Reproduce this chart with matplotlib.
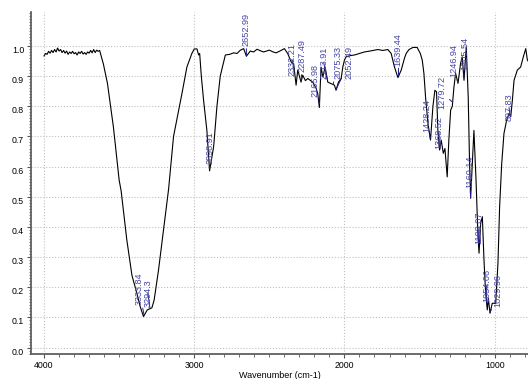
import numpy as np
import matplotlib
matplotlib.use("Agg")
import matplotlib.pyplot as plt
from matplotlib.ticker import MultipleLocator

plt.rcParams['font.family'] = ['Liberation Sans', 'DejaVu Sans']

# spectrum: wavenumber (cm-1) and transmittance
wavenumber = [4000, 3990, 3980, 3970, 3960, 3950, 3940, 3930, 3920, 3910, 3900, 3890, 3880, 3870,
              3860, 3850, 3840, 3830, 3820, 3810, 3800, 3790, 3780, 3770, 3760, 3750, 3740, 3730,
              3720, 3710, 3700, 3690, 3680, 3670, 3660, 3650, 3640, 3630,
              3605, 3578, 3538, 3500, 3487, 3449, 3415, 3382, 3360, 3338, 3313, 3282, 3267, 3238,
              3205, 3171, 3138, 3082, 3049, 3016, 3000, 2982, 2971, 2964, 2953, 2938, 2916, 2898,
              2871, 2849, 2827, 2793, 2765, 2738, 2715, 2693, 2671, 2653, 2627, 2605, 2582, 2560,
              2538, 2500, 2475, 2455, 2430, 2400, 2378, 2355, 2338, 2322, 2311, 2289, 2278, 2260,
              2244, 2211, 2189, 2178, 2167, 2156, 2144, 2129, 2111, 2089, 2067, 2056, 2040, 2022,
              2011, 2000, 1989, 1960, 1933, 1900, 1867, 1820, 1778, 1745, 1711, 1689, 1667, 1644,
              1622, 1600, 1589, 1570, 1544, 1516, 1495, 1482, 1471, 1460, 1444, 1427, 1411, 1398,
              1387, 1378, 1367, 1356, 1342, 1331, 1316, 1305, 1293, 1282, 1271, 1260, 1244, 1227,
              1216, 1204, 1189, 1176, 1167, 1160, 1149, 1138, 1124, 1111, 1104, 1093, 1082, 1071,
              1060, 1049, 1042, 1031, 1016, 993, 978, 967, 953, 938, 920, 904, 893, 882, 871, 849,
              827, 809, 793, 782, 773]
transmittance = [0.967, 0.975, 0.972, 0.982, 0.976, 0.985, 0.978, 0.988, 0.980, 0.993, 0.983, 0.988,
                 0.978, 0.985, 0.976, 0.983, 0.972, 0.980, 0.975, 0.982, 0.974, 0.978, 0.970, 0.980,
                 0.975, 0.982, 0.973, 0.978, 0.972, 0.980, 0.976, 0.985, 0.977, 0.988, 0.978, 0.986,
                 0.982, 0.985,
                 0.940, 0.876, 0.730, 0.555, 0.520, 0.357, 0.240, 0.180, 0.136, 0.103, 0.125, 0.132,
                 0.158, 0.257, 0.390, 0.525, 0.700, 0.842, 0.930, 0.975, 0.990, 0.990, 0.970, 0.975,
                 0.900, 0.820, 0.720, 0.586, 0.666, 0.800, 0.900, 0.970, 0.972, 0.977, 0.975, 0.986,
                 0.991, 0.966, 0.983, 0.980, 0.989, 0.984, 0.980, 0.986, 0.980, 0.977, 0.983, 0.991,
                 0.975, 0.947, 0.940, 0.870, 0.920, 0.880, 0.903, 0.885, 0.892, 0.880, 0.860, 0.842,
                 0.796, 0.930, 0.897, 0.930, 0.880, 0.875, 0.870, 0.853, 0.880, 0.892, 0.930, 0.953,
                 0.964, 0.968, 0.970, 0.975, 0.980, 0.984, 0.988, 0.985, 0.988, 0.975, 0.930, 0.895,
                 0.920, 0.960, 0.975, 0.988, 0.995, 0.995, 0.975, 0.953, 0.909, 0.830, 0.743, 0.688,
                 0.800, 0.853, 0.848, 0.720, 0.655, 0.688, 0.644, 0.660, 0.566, 0.688, 0.787, 0.800,
                 0.864, 0.909, 0.876, 0.942, 0.964, 0.886, 0.997, 0.830, 0.610, 0.495, 0.610, 0.720,
                 0.555, 0.368, 0.313, 0.412, 0.434, 0.290, 0.180, 0.125, 0.164, 0.114, 0.147, 0.147,
                 0.280, 0.467, 0.610, 0.710, 0.754, 0.776, 0.765, 0.820, 0.886, 0.920, 0.930, 0.964,
                 0.991, 0.953, 0.947]

# peak labels, where each label text sits (x centre, bottom)
peak_labels = ["3333.84", "3294.3", "2898.91", "2652.99", "2332.21", "2287.49", "2165.98",
               "2113.91", "2075.33", "2052.49", "1639.44", "1428.24", "1368.52", "1279.72",
               "1246.94", "1205.54", "1160.14", "1108.07", "1054.06", "1029.96", "897.83"]
label_x = [3367, 3309, 2898, 2653, 2349, 2282, 2193, 2138, 2044, 1971, 1644, 1453, 1371, 1349,
           1275, 1198, 1167, 1104, 1053, 982, 904]
label_y = [0.14, 0.135, 0.61, 1.0, 0.90, 0.914, 0.83, 0.89, 0.89, 0.89, 0.935, 0.715, 0.66, 0.79,
           0.897, 0.92, 0.53, 0.345, 0.15, 0.136, 0.75]

fig = plt.figure(figsize=(5.28, 3.79), dpi=100)
ax = fig.add_axes([0.0587, 0.066, 0.9413, 0.902])

ax.plot(wavenumber, transmittance, color='black', lw=0.8)

wn_rev = np.array(wavenumber[::-1])
tr_rev = np.array(transmittance[::-1])
for txt, tx, ty in zip(peak_labels, label_x, label_y):
    px = float(txt)
    py = np.interp(px, wn_rev, tr_rev)
    ax.annotate(txt, xy=(px, py), xytext=(tx, ty), rotation=90, ha='center', va='bottom',
                fontsize=6.6, color='#4646a8',
                arrowprops=dict(arrowstyle='-', color='#1e1e8c', lw=0.7, shrinkA=0, shrinkB=0))

ax.set_xlim(4087, 778)
ax.set_ylim(-0.021, 1.112)

ax.set_xticks([4000, 3000, 2000, 1000])
ax.xaxis.set_minor_locator(MultipleLocator(100))
ax.set_yticks(np.arange(0, 1.01, 0.1))
ax.set_yticklabels([f"{v:.1f}" for v in np.arange(0, 1.01, 0.1)])
ax.yaxis.set_minor_locator(MultipleLocator(0.01))
for lab in ax.get_yticklabels():
    lab.set_verticalalignment('top')

ax.tick_params(axis='both', which='major', labelsize=6.3, length=3, width=0.8,
               color='#555555', pad=2)
ax.tick_params(axis='both', which='minor', length=1.8, width=0.6, color='#555555')

ax.grid(True, which='major', linestyle=':', color='#c0c0c0', lw=0.8)

for s in ['top', 'right']:
    ax.spines[s].set_visible(False)
for s in ['left', 'bottom']:
    ax.spines[s].set_color('#606060')
    ax.spines[s].set_linewidth(1.3)

ax.set_xlabel('Wavenumber (cm-1)', fontsize=6.5, labelpad=1)

fig.savefig('out.png', dpi=100)
